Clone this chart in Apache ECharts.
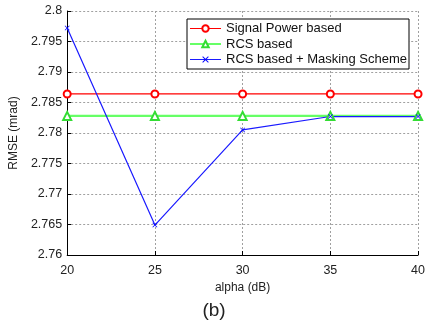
<!DOCTYPE html>
<html>
<head>
<meta charset="utf-8">
<script src="https://cdn.jsdelivr.net/npm/echarts@6/dist/echarts.min.js"></script>
<style>
  html, body { margin: 0; padding: 0; background: #fff; }
  #chart { width: 428px; height: 321px; }
</style>
</head>
<body>
<div id="chart"></div>
<script>
// alpha (dB)
const alpha = [20, 25, 30, 35, 40];
const signalPower = [2.7864, 2.7864, 2.7864, 2.7864, 2.7864];
const rcsBased = [2.7828, 2.7828, 2.7828, 2.7828, 2.7828];
const rcsMasking = [2.7972, 2.7649, 2.7805, 2.7827, 2.7827];
const seriesNames = ['Signal Power based', 'RCS based', 'RCS based + Masking Scheme'];

const toPairs = (ys) => alpha.map((x, i) => [x, ys[i]]);
const font = 'Liberation Sans, Arial, sans-serif';
const crossPath = 'path://M0,1L1,0L5,4L9,0L10,1L6,5L10,9L9,10L5,6L1,10L0,9L4,5Z';
const gridLine = { show: true, lineStyle: { type: [2, 2], color: '#a0a0a0', width: 1 } };

const chart = echarts.init(document.getElementById('chart'));
chart.setOption({
  animation: false,
  title: {
    text: '(b)',
    left: 'center',
    top: 296,
    textStyle: { fontFamily: font, fontSize: 19, fontWeight: 'normal', color: '#222' },
  },
  grid: { left: 66, right: 9, top: 11, bottom: 66 },
  legend: {
    orient: 'vertical',
    left: 187,
    top: 19,
    padding: [3, 2, 3, 2],
    itemGap: 2.5,
    itemWidth: 31,
    itemHeight: 8,
    borderColor: '#000',
    borderWidth: 1,
    backgroundColor: '#fff',
    textStyle: { fontFamily: font, fontSize: 13, color: '#111' },
    data: [
      { name: seriesNames[0], lineStyle: { width: 1 }, itemStyle: { borderWidth: 1 } },
      { name: seriesNames[1], lineStyle: { width: 2 }, itemStyle: { borderWidth: 1 } },
      { name: seriesNames[2], lineStyle: { width: 1 } },
    ],
  },
  xAxis: {
    type: 'value',
    min: 20,
    max: 40,
    interval: 5,
    name: 'alpha (dB)',
    nameLocation: 'middle',
    nameGap: 24,
    nameTextStyle: { fontFamily: font, fontSize: 12, color: '#222' },
    axisLine: { lineStyle: { color: '#000', width: 1 } },
    axisTick: { inside: true, length: 4, lineStyle: { color: '#000' } },
    axisLabel: { fontFamily: font, fontSize: 12.5, color: '#222', margin: 9 },
    splitLine: gridLine,
  },
  yAxis: {
    type: 'value',
    min: 2.76,
    max: 2.8,
    interval: 0.005,
    name: 'RMSE (mrad)',
    nameLocation: 'middle',
    nameGap: 45,
    nameTextStyle: { fontFamily: font, fontSize: 12, color: '#222' },
    axisLine: { show: true, lineStyle: { color: '#000', width: 1 } },
    axisTick: { show: true, inside: true, length: 4, lineStyle: { color: '#000' } },
    axisLabel: {
      fontFamily: font,
      fontSize: 12.5,
      color: '#222',
      margin: 5,
      formatter: (v) => String(+v.toFixed(3)),
    },
    splitLine: gridLine,
  },
  series: [
    {
      name: seriesNames[0],
      type: 'line',
      data: toPairs(signalPower),
      symbol: 'emptyCircle',
      symbolSize: 7,
      color: '#ff0000',
      lineStyle: { width: 1.2, color: '#ff0000' },
      itemStyle: { color: '#ff0000', borderWidth: 1 },
    },
    {
      name: seriesNames[1],
      type: 'line',
      data: toPairs(rcsBased),
      symbol: 'emptyTriangle',
      symbolSize: 8,
      color: '#55ee55',
      lineStyle: { width: 2.2, color: '#66ff66' },
      itemStyle: { color: '#33dd33', borderWidth: 1 },
    },
    {
      name: seriesNames[2],
      type: 'line',
      data: toPairs(rcsMasking),
      symbol: crossPath,
      symbolSize: 5,
      color: '#0000ff',
      lineStyle: { width: 1.2, color: '#1a1aff' },
      itemStyle: { color: '#0000ff' },
    },
  ],
});
</script>
</body>
</html>
